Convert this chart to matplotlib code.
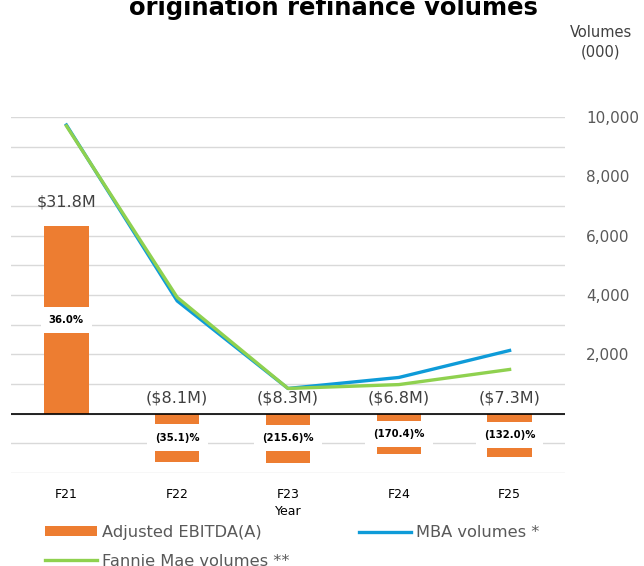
import numpy as np
import matplotlib.pyplot as plt
import matplotlib as mpl

mpl.rcParams['font.family'] = 'DejaVu Sans'

years = ['F21', 'F22', 'F23', 'F24', 'F25']
ebitda = [31.8, -8.1, -8.3, -6.8, -7.3]
ebitda_labels = ['$31.8M', '($8.1M)', '($8.3M)', '($6.8M)', '($7.3M)']
margin_labels = ['36.0%', '(35.1)%', '(215.6)%', '(170.4)%', '(132.0)%']
mba_volumes = [9730, 3800, 850, 1220, 2130]
fannie_volumes = [9700, 3920, 850, 980, 1490]

orange = '#ED7D31'
blue = '#0E9BD8'
green = '#8FD14F'
grey_text = '#595959'

fig = plt.figure(figsize=(6.44, 5.66), dpi=100)
ax = fig.add_axes([11/644, 1 - 473/566, (565 - 11)/644, (473 - 117)/566])
x = np.arange(len(years))

# EBITDA bars on a hidden twin axis, zero aligned with volume zero
axb = ax.twinx()

# volume axis (lines + gridlines)
ax.set_xlim(-0.5, 4.5)
ax.set_ylim(-2000, 10000)
ticks = np.arange(-2000, 10001, 1000)
ax.set_yticks(ticks)
ax.set_yticklabels(['{:,}'.format(v) if v > 0 and v % 2000 == 0 else '' for v in ticks])
ax.yaxis.tick_right()
ax.tick_params(axis='y', length=0, pad=15, labelsize=11, labelcolor=grey_text)
ax.grid(axis='y', color='#D9D9D9', linewidth=1)
ax.set_axisbelow(True)
for s in ax.spines.values():
    s.set_visible(False)
ax.set_xticks(x)
ax.set_xticklabels(years, fontsize=9)
ax.tick_params(axis='x', length=0, pad=11)
ax.set_xlabel('Year', fontsize=9, labelpad=3)

l_mba, = ax.plot(x, mba_volumes, color=blue, linewidth=2.4, label='MBA volumes *', zorder=3)
l_fan, = ax.plot(x, fannie_volumes, color=green, linewidth=2.4, label='Fannie Mae volumes **', zorder=4)

axb.set_ylim(-10.04, 50.2)
axb.set_yticks([])
for s in axb.spines.values():
    s.set_visible(False)
bars = axb.bar(x, ebitda, width=0.4, color=orange, label='Adjusted EBITDA(A)', zorder=2)
axb.axhline(0, color='black', linewidth=1.2, zorder=3)

for xi, v, lab, m in zip(x, ebitda, ebitda_labels, margin_labels):
    if v > 0:
        axb.text(xi, v + 2.7, lab, ha='center', va='bottom', fontsize=11.5, color='#404040')
    else:
        axb.text(xi, 1.3, lab, ha='center', va='bottom', fontsize=11.5, color='#404040')
    axb.text(xi, v / 2, m, ha='center', va='center', fontsize=7.3, fontweight='bold',
             color='black', zorder=5,
             bbox=dict(boxstyle='square,pad=0.8', facecolor='white', edgecolor='none'))

fig.text(0.517, 1 - 15/566, 'origination refinance volumes', ha='center', va='baseline',
         fontsize=17.5, fontweight='bold')
fig.text(601/644, 1 - 42/566, 'Volumes\n(000)', ha='center', va='center',
         fontsize=10.5, color='#404040', linespacing=1.35)

fig.legend([bars, l_fan, l_mba],
           ['Adjusted EBITDA(A)', 'Fannie Mae volumes **', 'MBA volumes *'],
           ncol=2, loc='upper left', bbox_to_anchor=(45/644, 1 - 525/566),
           frameon=False, fontsize=11.7, labelcolor=grey_text,
           handlelength=3.2, handleheight=0.6, handletextpad=0.3,
           columnspacing=4.3, labelspacing=0.85, borderpad=0, borderaxespad=0)

fig.savefig('out.png', dpi=100)
